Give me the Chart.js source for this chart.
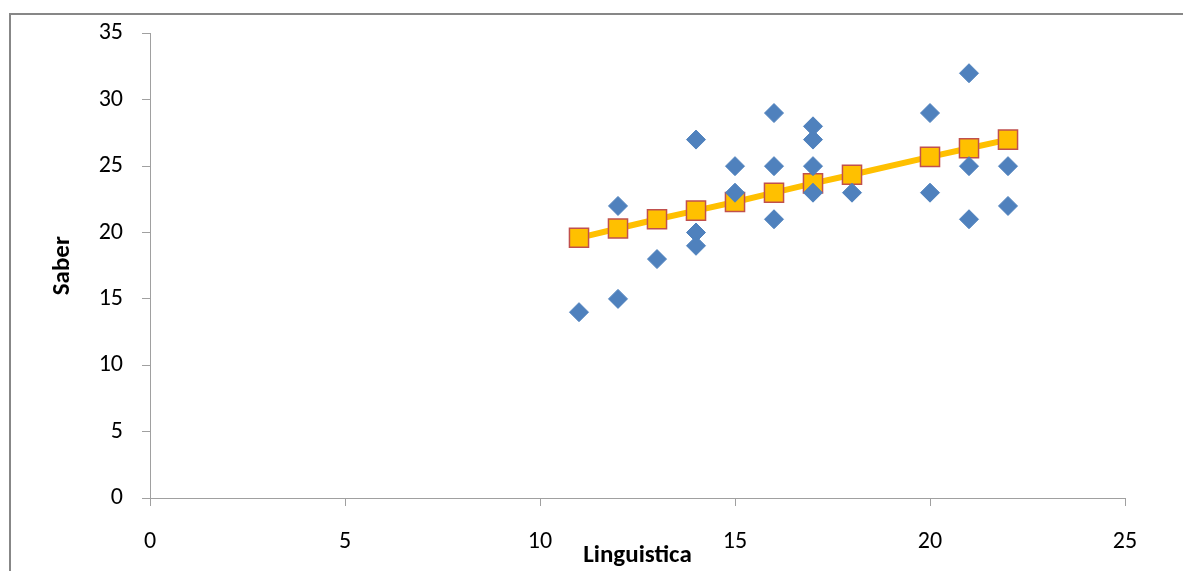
<!DOCTYPE html>
<html>
<head>
<meta charset="utf-8">
<script src="https://cdn.jsdelivr.net/npm/chart.js@4.4.1/dist/chart.umd.min.js"></script>
<style>
  body { margin: 0; background: #fff; overflow: hidden; }
  #marco { position: absolute; left: 9px; top: 13px; width: 1300px; height: 700px;
           border-left: 2px solid #878787; border-top: 2px solid #878787; }
  #grafico { position: absolute; left: 0; top: 0; }
</style>
</head>
<body>
<div id="marco"></div>
<canvas id="grafico" width="1183" height="571"></canvas>
<script>
// observaciones
const linguistica = [11, 12, 12, 13, 14, 14, 14, 15, 15, 16, 16, 16, 17, 17, 17, 17, 18, 20, 20, 21, 21, 21, 22, 22];
const saber = [14, 22, 15, 18, 27, 20, 19, 25, 23, 29, 25, 21, 28, 27, 25, 23, 23, 29, 23, 32, 25, 21, 25, 22];

// recta de ajuste
const linguisticaAjuste = [11, 12, 13, 14, 15, 16, 17, 18, 20, 21, 22];
const saberAjuste = [19.6, 20.3, 21.0, 21.65, 22.3, 23.0, 23.7, 24.35, 25.7, 26.35, 27.0];

const ticksX = [0, 5, 10, 15, 20, 25];
const ticksY = [0, 5, 10, 15, 20, 25, 30, 35];

const fuente = "Carlito, 'Open Sans', sans-serif";
const gris = '#a0a0a0';

const puntos = linguistica.map((x, i) => ({ x: x, y: saber[i] }));
const ajuste = linguisticaAjuste.map((x, i) => ({ x: x, y: saberAjuste[i] }));

const ctx = document.getElementById('grafico').getContext('2d');

new Chart(ctx, {
  type: 'scatter',
  data: {
    datasets: [
      {
        label: 'Saber',
        data: puntos,
        pointStyle: 'rectRot',
        pointRadius: 9.5,
        backgroundColor: '#4f81bd',
        borderColor: '#4f81bd',
        borderWidth: 1,
        order: 0
      },
      {
        label: 'Ajuste',
        type: 'line',
        data: ajuste,
        showLine: true,
        borderColor: '#ffc000',
        borderWidth: 6,
        pointStyle: 'rect',
        pointRadius: 13.5,
        pointBackgroundColor: '#ffc000',
        pointBorderColor: '#c0504d',
        pointBorderWidth: 1.5,
        order: 1
      }
    ]
  },
  options: {
    responsive: false,
    devicePixelRatio: 1,
    animation: false,
    layout: { padding: { top: 33, right: 58, left: 0, bottom: 0 } },
    plugins: { legend: { display: false }, tooltip: { enabled: false } },
    scales: {
      x: {
        type: 'linear',
        min: 0,
        max: 25,
        afterBuildTicks: (s) => { s.ticks = ticksX.map(v => ({ value: v })); },
        afterFit: (s) => { s.height = 73; },
        grid: { drawOnChartArea: false, tickLength: 8, color: gris },
        border: { color: gris, width: 1 },
        ticks: { color: '#000', font: { family: fuente, size: 24 }, padding: 22 },
        title: {
          display: true,
          text: 'Linguistica',
          color: '#000',
          font: { family: fuente, size: 25, weight: 'bold' },
          padding: { top: 0, bottom: 0 }
        }
      },
      y: {
        type: 'linear',
        min: 0,
        max: 35,
        afterBuildTicks: (s) => { s.ticks = ticksY.map(v => ({ value: v })); },
        afterFit: (s) => { s.width = 150; },
        grid: { drawOnChartArea: false, tickLength: 8, color: gris },
        border: { color: gris, width: 1 },
        ticks: { color: '#000', font: { family: fuente, size: 24 }, padding: 19 },
        title: {
          display: true,
          text: 'Saber',
          color: '#000',
          font: { family: fuente, size: 25, weight: 'bold' },
          padding: { top: 48, bottom: 0 }
        }
      }
    }
  }
});
</script>
</body>
</html>
